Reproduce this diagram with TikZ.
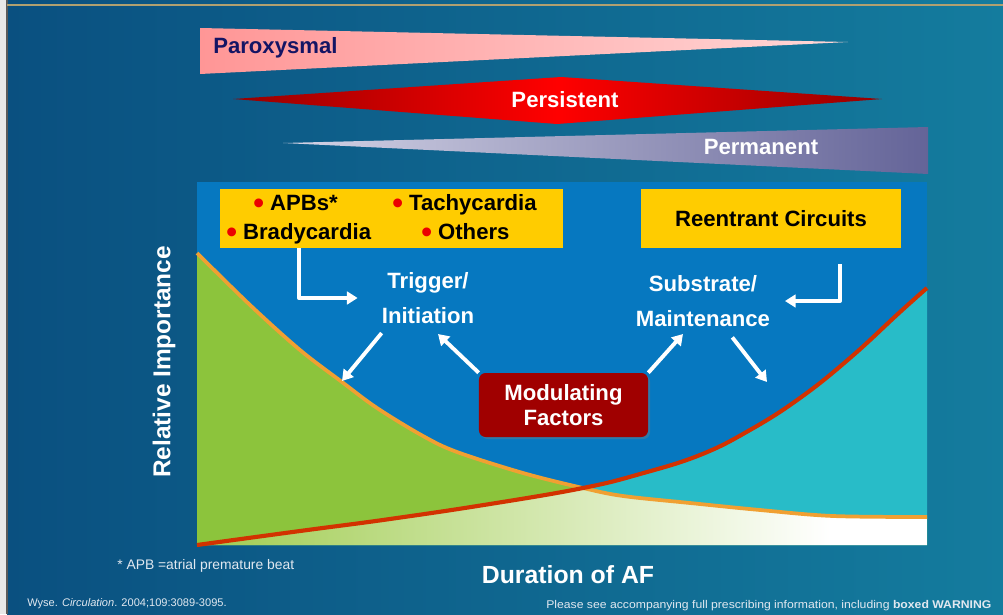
\documentclass[tikz,border=0pt]{standalone}
\usepackage{fontspec}
\setmainfont{Liberation Sans}
\usetikzlibrary{arrows.meta,calc,shadows}

\definecolor{bgleft}{RGB}{10,80,128}
\definecolor{bgright}{RGB}{20,124,158}
\definecolor{stripgrey}{RGB}{232,232,232}
\definecolor{edgegrey}{RGB}{90,90,90}
\definecolor{topline}{RGB}{176,160,112}
\definecolor{paroxL}{RGB}{255,150,150}
\definecolor{paroxR}{RGB}{255,215,215}
\definecolor{persD}{RGB}{150,0,0}
\definecolor{persC}{RGB}{255,0,0}
\definecolor{permL}{RGB}{212,212,230}
\definecolor{permR}{RGB}{100,100,152}
\definecolor{navytext}{RGB}{20,20,100}
\definecolor{panelblue}{RGB}{6,120,192}
\definecolor{boxyellow}{RGB}{255,204,0}
\definecolor{dotred}{RGB}{235,0,0}
\definecolor{modred}{RGB}{160,0,0}
\definecolor{greenfill}{RGB}{140,196,60}
\definecolor{tealfill}{RGB}{40,188,200}
\definecolor{lightgreen}{RGB}{160,204,80}
\definecolor{orangeline}{RGB}{240,160,50}
\definecolor{redline}{RGB}{210,50,0}
\definecolor{notegrey}{RGB}{225,232,240}

\tikzset{
  lbl/.style={text=white,font=\fontsize{16.6}{26}\selectfont\bfseries,align=center,inner sep=0pt},
  ybox/.style={fill=boxyellow,minimum height=44.3pt,inner sep=0pt,font=\fontsize{16.6}{20}\selectfont\bfseries},
  item/.style={anchor=base west,inner sep=0pt,font=\fontsize{16.6}{20}\selectfont\bfseries},
  modbox/.style={fill=modred,rounded corners=5pt,minimum width=126.8pt,minimum height=48pt,
    text=white,font=\fontsize{16.6}{19}\selectfont\bfseries,align=center,
    drop shadow={opacity=0.35,shadow xshift=1.5pt,shadow yshift=-1.5pt}},
  wharrow/.style={draw=white,line width=2.9pt,-{Triangle[length=8pt,width=9.5pt]}},
  note/.style={anchor=west,inner sep=0pt,text=notegrey},
}

\newcommand\reddot{\textcolor{dotred}{\raisebox{-2.3pt}{\fontsize{23}{23}\selectfont\textbullet}}}

% the two importance curves
\newcommand\curvetrig{plot[smooth,tension=0.55] coordinates {(197,253) (250,305) (300,350) (342,382) (377,408) (423,436) (457,452) (523,473) (583,488) (623,496) (690,503) (760,510) (833,516) (927,517)}}
\newcommand\curvesubst{plot[smooth,tension=0.7] coordinates {(197,545) (300,531) (390,519) (490,504) (583,488) (640,474) (700,455) (750,430) (800,398) (850,358) (900,312) (927,288)}}

\begin{document}
\begin{tikzpicture}[x=0.75pt,y=-0.75pt,line join=round]
\useasboundingbox (0,0) rectangle (1003,614);
\clip (0,0) rectangle (1003,614);

% background
\shade[left color=bgleft,right color=bgright] (7,0) rectangle (1003,614);
\fill[stripgrey] (0,0) rectangle (7,614);
\draw[edgegrey,line width=0.8pt] (7,0) -- (7,614);
\draw[topline,line width=1.5pt] (7,4.5) -- (1003,4.5);

% types of AF
\shade[left color=paroxL,right color=paroxR] (200,28) -- (848,42) -- (200,74) -- cycle;
\shade[left color=persD,right color=persD,middle color=persC] (233,99) -- (561,77) -- (882,99) -- (557,124) -- cycle;
\shade[left color=permL,right color=permR] (283,143) -- (928,127) -- (928,174) -- cycle;
\node[anchor=west,inner sep=0pt,text=navytext,font=\fontsize{16.6}{20}\selectfont\bfseries] (paroxysmal) at (213,48) {Paroxysmal};
\node[lbl] (persistent) at (565,100) {Persistent};
\node[lbl] (permanent) at (761,147) {Permanent};

% chart
\fill[panelblue] (197,182) rectangle (927,545);
\fill[greenfill] \curvetrig -- (927,545) -- (197,545) -- cycle;
\fill[tealfill] \curvesubst -- (927,545) -- cycle;
\begin{scope}
  \clip \curvetrig -- (927,545) -- (197,545) -- cycle;
  \clip \curvesubst -- (927,545) -- cycle;
  \shade[left color=lightgreen,right color=white] (197,250) rectangle (830,546);
  \fill[white] (830,250) rectangle (927,546);
\end{scope}
\draw[orangeline,line width=2.8pt] \curvetrig;
\draw[redline,line width=3.1pt] \curvesubst;

% boxes and labels
\node[ybox,minimum width=257.3pt] (triggerbox) at (391.5,218.5) {};
\node[item] (apbs) at (253,210) {\reddot\ APBs*};
\node[item] (tachy) at (392,210) {\reddot\ Tachycardia};
\node[item] (brady) at (226,239) {\reddot\ Bradycardia};
\node[item] (others) at (421,239) {\reddot\ Others};
\node[ybox,minimum width=195pt] (reentrantbox) at (771,218.5) {Reentrant Circuits};

\node[lbl] (trigger) at (428,298) {Trigger/\\Initiation};
\node[lbl] (substrate) at (703,301) {Substrate/\\Maintenance};

\coordinate (greentip) at (342,381);
\coordinate (tealtip) at (767,382);
\coordinate (trigtip) at (438,334);
\coordinate (subtip) at (683,334);

\draw[wharrow] ($(triggerbox.south west)!0.23!(triggerbox.south east)$) |- ([xshift=-18pt]trigger.west);
\draw[wharrow] ([yshift=-12pt]$(reentrantbox.south west)!0.765!(reentrantbox.south east)$) |- ([xshift=11pt]substrate.east);
\draw[wharrow] ([yshift=-7pt]trigger.south west) -- (greentip);
\draw[wharrow] ([xshift=22pt,yshift=-8pt]substrate.south) -- (tealtip);

\node[modbox] (modulating) at (563.5,405) {Modulating\\Factors};
\draw[wharrow] (modulating.north west) -- (trigtip);
\draw[wharrow] (modulating.north east) -- (subtip);

% axes
\node[rotate=90,text=white,font=\fontsize{18.3}{22}\selectfont\bfseries] (yaxis) at (164,362) {Relative Importance};
\node[text=white,font=\fontsize{18.6}{22}\selectfont\bfseries] (xaxis) at (568,575) {Duration of AF};

% notes
\node[note,font=\fontsize{10.4}{12}\selectfont] (apbnote) at (117,566) {* APB =atrial premature beat};
\node[note,font=\fontsize{8.3}{10}\selectfont] (source) at (27,604) {Wyse. \textit{Circulation}. 2004;109:3089-3095.};
\node[note,font=\fontsize{8.4}{10}\selectfont] (warning) at (546,606) {\scalebox{1.09}[1]{Please see accompanying full prescribing information, including \textbf{boxed WARNING}}};
\end{tikzpicture}
\end{document}
